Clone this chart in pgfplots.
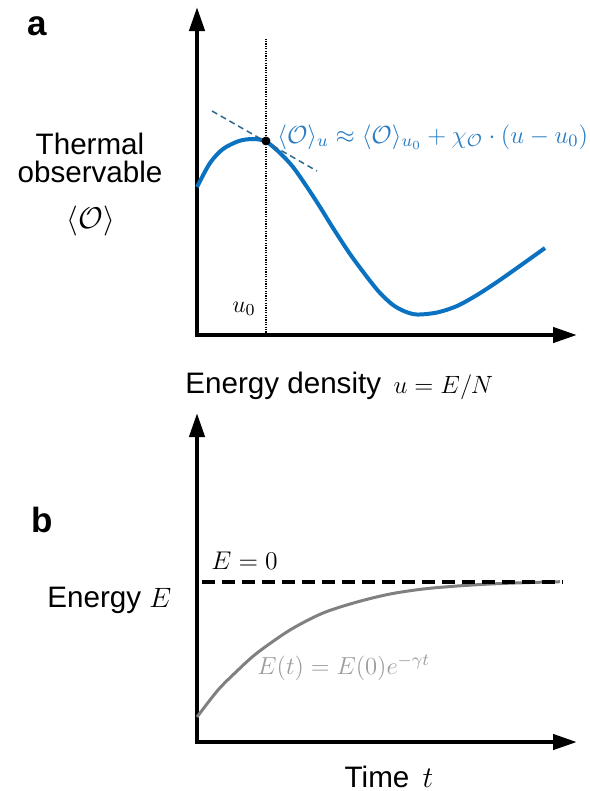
\RequirePackage{fix-cm}
\documentclass[border=0pt]{standalone}
\usepackage[no-math]{fontspec}
\setmainfont{Liberation Sans}
\usepackage{pgfplots}
\pgfplotsset{compat=1.18}
\usetikzlibrary{arrows.meta}
\definecolor{cblue}{HTML}{0A72C0}
\definecolor{ctxt}{HTML}{2A7DC4}
\definecolor{ctan}{HTML}{2B6A8F}
\definecolor{cgray}{HTML}{808080}
\definecolor{cgraytxt}{HTML}{9C9C9C}
\begin{document}
\begin{tikzpicture}
\pgfplotsset{every axis/.append style={scale only axis, axis lines=left, xtick=\empty, ytick=\empty, clip=false,
  axis line style={line width=2.15bp, line cap=rect, -{Triangle[length=12bp,width=7.5bp]}},
  anchor=south west, xmin=0, ymin=0}}
% panel a
\begin{axis}[at={(98.5bp,-167.5bp)}, width=190bp, height=164bp, xmax=380, ymax=328]
\addplot[black, line width=0.6bp, dash pattern=on 0.6bp off 0.6bp] coordinates {(69,0) (69,297)};
\addplot[cblue, line width=2bp, smooth] coordinates {
(0,148) (13,172) (26,186) (42,194) (56,196) (69,193.5) (83,182) (96,168) (110,148) (123,128)
(136,107) (153,81) (170,58) (183,42) (196,30) (208,23.5) (220,20.5) (240,22.5) (260,29)
(280,40) (300,53) (320,67) (348,87)};
\addplot[ctan, line width=0.75bp, dash pattern=on 3bp off 2bp] coordinates {(15,224) (120,164)};
\addplot[only marks, mark=*, mark size=2bp, black] coordinates {(69,194)};
\end{axis}
% panel b
\begin{axis}[at={(98.5bp,-371bp)}, width=190bp, height=164.5bp, xmax=380, ymax=329]
\addplot[cgray, line width=1.5bp, smooth] coordinates {
(0,25) (21,52) (40,71) (60,89) (93,112) (126,129) (160,140) (193,148) (226,153) (260,156)
(293,158) (326,159.3) (363,160.3)};
\addplot[black, line width=2bp, dash pattern=on 6.5bp off 3.5bp] coordinates {(5,160.3) (366,160.3)};
\end{axis}
\begin{scope}[x=0.5bp, y=-0.5bp]
\path[use as bounding box] (0,0) rectangle (590,791);
\node[font=\fontsize{17.5bp}{20bp}\selectfont\bfseries] at (37,26) {a};
\node[font=\fontsize{17.5bp}{20bp}\selectfont\bfseries] at (42.5,520) {b};
\node[font=\fontsize{14.8bp}{18bp}\selectfont, anchor=base] at (90,154) {Thermal};
\node[font=\fontsize{14.8bp}{18bp}\selectfont, anchor=base] at (90,182) {observable};
\node[font=\fontsize{15bp}{18bp}\selectfont] at (91,221) {$\langle\mathcal{O}\rangle$};
\node[font=\fontsize{14.8bp}{18bp}\selectfont, anchor=base west, inner sep=0pt] at (185,393) {Energy density \fontsize{12.5bp}{15bp}\selectfont$\,u=E/N$};
\node[font=\fontsize{14.8bp}{18bp}\selectfont, anchor=base west, inner sep=0pt] at (47,607) {Energy \fontsize{14bp}{17bp}\selectfont$E$};
\node[font=\fontsize{14.8bp}{18bp}\selectfont, anchor=base, inner sep=0pt] at (389,787.5) {Time \fontsize{15bp}{18bp}\selectfont$\,t$};
\node[font=\fontsize{12.4bp}{15bp}\selectfont, anchor=west, inner sep=0pt, text=ctxt] at (277,137)
  {$\langle\mathcal{O}\rangle_u \approx \langle\mathcal{O}\rangle_{u_0} + \chi_{\mathcal{O}}\cdot(u-u_0)$};
\node[font=\fontsize{12bp}{15bp}\selectfont] at (244,309) {$u_0$};
\node[font=\fontsize{12.8bp}{15bp}\selectfont, anchor=base west, inner sep=0pt] at (211,569) {$E=0$};
\node[font=\fontsize{12.3bp}{15bp}\selectfont, anchor=base west, inner sep=0pt, text=cgraytxt] at (257,674) {$E(t)=E(0)e^{-\gamma t}$};
\end{scope}
\end{tikzpicture}
\end{document}
